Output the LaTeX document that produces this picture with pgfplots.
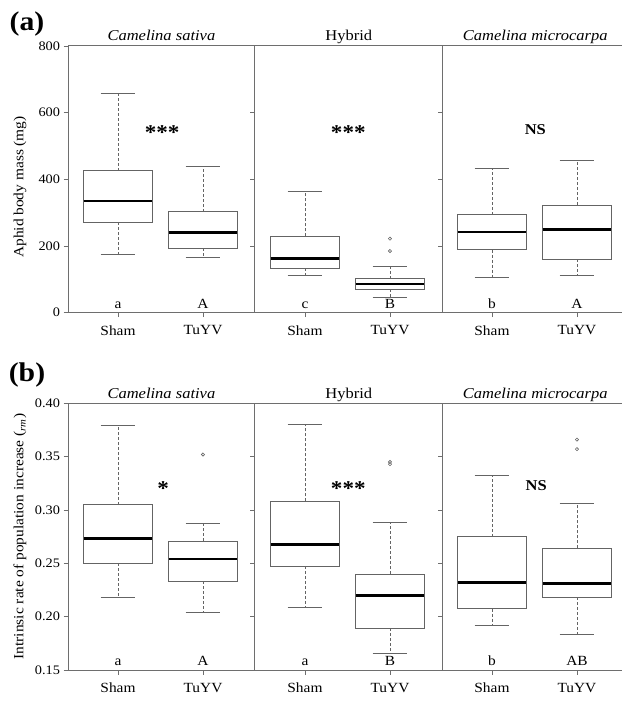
\documentclass[border=0pt]{standalone}
\usepackage{fontspec}
\setmainfont{Liberation Serif}[FakeStretch=1.1]
\usepackage{pgfplots}
\pgfplotsset{compat=1.18}

\definecolor{boxgray}{RGB}{100,100,100}
\definecolor{axgray}{RGB}{110,110,110}

\pgfplotsset{
  panel/.style={
    scale only axis, width=554pt, height=266.7pt,
    xmin=-0.588, xmax=5.93,
    axis x line*=bottom, axis y line*=left,
    axis line style={-, axgray, line width=1pt},
    xtick={0,1,2.2,3.2,4.4,5.4},
    xticklabels={Sham,TuYV,Sham,TuYV,Sham,TuYV},
    tick align=outside, major tick length=4.5pt,
    tick style={axgray, line width=0.9pt},
    xticklabel style={font=\fontsize{14}{16}\selectfont, yshift=-5pt},
    yticklabel style={font=\fontsize{13}{14}\selectfont},
    /pgf/number format/assume math mode=true,
    clip=false,
  },
  boxl/.style={draw=boxgray, line width=0.8pt, mark=none, solid},
  whisk/.style={draw=boxgray, line width=0.7pt, mark=none, dash pattern=on 3pt off 2pt},
  med/.style={draw=black, line width=2.6pt, mark=none},
  outl/.style={only marks, mark=o, mark size=1.6pt, mark options={solid, draw=boxgray, line width=0.6pt}},
}
\tikzset{
  ttl/.style={anchor=base, yshift=5pt, font=\fontsize{15}{16}\selectfont},
  lett/.style={anchor=south, yshift=0.5pt, font=\fontsize{14}{16}\selectfont},
  star/.style={font=\fontsize{21}{22}\bfseries\selectfont},
  ns/.style={font=\fontsize{15}{16}\bfseries\selectfont},
}

% \bxp{position}{lower whisker}{lower quartile}{median}{upper quartile}{upper whisker}
\newcommand\bxp[6]{%
  \pgfmathsetmacro\bxl{#1-0.405}\pgfmathsetmacro\bxr{#1+0.405}%
  \pgfmathsetmacro\cpl{#1-0.205}\pgfmathsetmacro\cpr{#1+0.205}%
  \addplot[whisk] coordinates {(#1,#3) (#1,#2)};
  \addplot[whisk] coordinates {(#1,#5) (#1,#6)};
  \addplot[boxl] coordinates {(\cpl,#2) (\cpr,#2)};
  \addplot[boxl] coordinates {(\cpl,#6) (\cpr,#6)};
  \addplot[boxl, fill=white] coordinates {(\bxl,#3) (\bxr,#3) (\bxr,#5) (\bxl,#5)} -- cycle;
  \addplot[med] coordinates {(\bxl,#4) (\bxr,#4)};
}

\begin{document}
\begin{tikzpicture}

% ---------------- (a) aphid body mass
\begin{axis}[panel, at={(68pt,388.3pt)}, anchor=south west,
    ymin=0, ymax=800, ytick={0,200,400,600,800}]
\draw[axgray, line width=1pt] (rel axis cs:0,1) -- (rel axis cs:1,1);
\draw[axgray, line width=1pt] (axis cs:1.61,0) -- (axis cs:1.61,800);
\draw[axgray, line width=1pt] (axis cs:3.82,0) -- (axis cs:3.82,800);
\draw[axgray, line width=0.9pt]
  (axis cs:1.61,200) -- ++(-4.5pt,0pt) (axis cs:1.61,400) -- ++(-4.5pt,0pt) (axis cs:1.61,600) -- ++(-4.5pt,0pt)
  (axis cs:3.82,200) -- ++(-4.5pt,0pt) (axis cs:3.82,400) -- ++(-4.5pt,0pt) (axis cs:3.82,600) -- ++(-4.5pt,0pt);

\bxp{0}{176}{272}{335}{426}{658}
\bxp{1}{165}{193}{241}{303}{440}
\bxp{2.2}{113}{134}{162}{229}{363}
\bxp{3.2}{47}{70}{86}{102}{140}
\addplot[outl] coordinates {(3.2,185) (3.2,222)};
\bxp{4.4}{107}{189}{242}{294}{433}
\bxp{5.4}{113}{161}{250}{323}{457}

\node[ttl] at (axis cs:0.511,800) {\itshape Camelina sativa};
\node[ttl] at (axis cs:2.715,800) {Hybrid};
\node[ttl] at (axis cs:4.91,800) {\itshape Camelina microcarpa};

\node[lett] at (axis cs:0,0) {a};
\node[lett] at (axis cs:1,0) {A};
\node[lett] at (axis cs:2.2,0) {c};
\node[lett] at (axis cs:3.2,0) {B};
\node[lett] at (axis cs:4.4,0) {b};
\node[lett] at (axis cs:5.4,0) {A};

\node[star] at (axis cs:0.52,540) {***};
\node[star] at (axis cs:2.71,540) {***};
\node[ns] at (axis cs:4.91,548) {NS};
\end{axis}

% ---------------- (b) intrinsic rate of increase
\begin{axis}[panel, at={(68pt,31pt)}, anchor=south west,
    ymin=0.15, ymax=0.40, ytick={0.15,0.20,0.25,0.30,0.35,0.40},
    yticklabel style={/pgf/number format/.cd, fixed, fixed zerofill, precision=2}]
\draw[axgray, line width=1pt] (rel axis cs:0,1) -- (rel axis cs:1,1);
\draw[axgray, line width=1pt] (axis cs:1.61,0.15) -- (axis cs:1.61,0.40);
\draw[axgray, line width=1pt] (axis cs:3.82,0.15) -- (axis cs:3.82,0.40);
\draw[axgray, line width=0.9pt]
  (axis cs:1.61,0.20) -- ++(-4.5pt,0pt) (axis cs:1.61,0.25) -- ++(-4.5pt,0pt)
  (axis cs:1.61,0.30) -- ++(-4.5pt,0pt) (axis cs:1.61,0.35) -- ++(-4.5pt,0pt)
  (axis cs:3.82,0.20) -- ++(-4.5pt,0pt) (axis cs:3.82,0.25) -- ++(-4.5pt,0pt)
  (axis cs:3.82,0.30) -- ++(-4.5pt,0pt) (axis cs:3.82,0.35) -- ++(-4.5pt,0pt);

\bxp{0}{0.218}{0.250}{0.273}{0.305}{0.379}
\bxp{1}{0.204}{0.233}{0.254}{0.271}{0.287}
\addplot[outl] coordinates {(1,0.352)};
\bxp{2.2}{0.209}{0.2475}{0.2675}{0.308}{0.380}
\bxp{3.2}{0.166}{0.189}{0.220}{0.240}{0.288}
\addplot[outl] coordinates {(3.2,0.343) (3.2,0.345)};
\bxp{4.4}{0.192}{0.2075}{0.232}{0.275}{0.332}
\bxp{5.4}{0.183}{0.218}{0.231}{0.264}{0.306}
\addplot[outl] coordinates {(5.4,0.357) (5.4,0.366)};

\node[ttl] at (axis cs:0.511,0.40) {\itshape Camelina sativa};
\node[ttl] at (axis cs:2.715,0.40) {Hybrid};
\node[ttl] at (axis cs:4.91,0.40) {\itshape Camelina microcarpa};

\node[lett] at (axis cs:0,0.15) {a};
\node[lett] at (axis cs:1,0.15) {A};
\node[lett] at (axis cs:2.2,0.15) {a};
\node[lett] at (axis cs:3.2,0.15) {B};
\node[lett] at (axis cs:4.4,0.15) {b};
\node[lett] at (axis cs:5.4,0.15) {AB};

\node[star] at (axis cs:0.53,0.320) {*};
\node[star] at (axis cs:2.71,0.320) {***};
\node[ns] at (axis cs:4.92,0.3228) {NS};
\end{axis}

% panel letters and y labels
\node[font=\fontsize{27}{28}\bfseries\selectfont] at (27pt,677pt) {(a)};
\node[font=\fontsize{27}{28}\bfseries\selectfont] at (27pt,326pt) {(b)};
\node[rotate=90, font=\fontsize{14}{16}\selectfont] at (20pt,514pt) {Aphid body mass (mg)};
\node[rotate=90, font=\fontsize{14}{16}\selectfont] at (20pt,164.5pt)
  {Intrinsic rate of population increase (\textsubscript{\itshape rm})};

\pgfresetboundingbox
\path[use as bounding box] (0,0) rectangle (622pt,701pt);
\end{tikzpicture}
\end{document}
